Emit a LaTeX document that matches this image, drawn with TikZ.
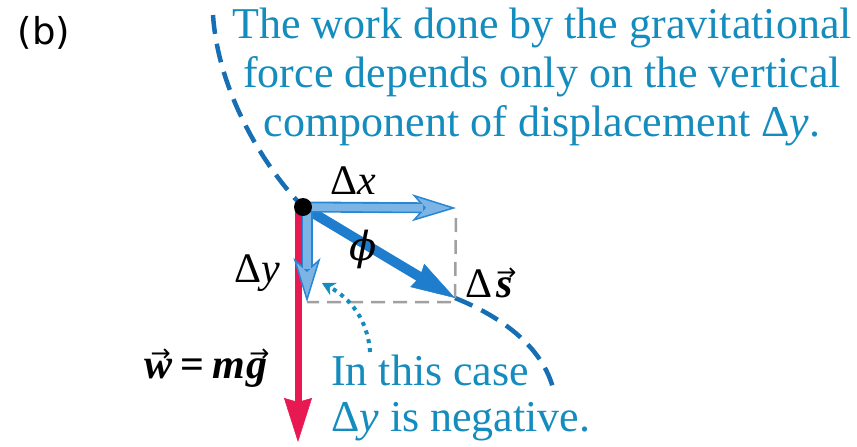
\documentclass[tikz,border=0pt]{standalone}
\usepackage{fontspec}
\newfontfamily\timesfont{Liberation Serif}
\newfontfamily\phifont{DejaVu Serif}
\newfontfamily\arrowfont{DejaVu Sans}
\usetikzlibrary{arrows.meta,calc}
\definecolor{notecol}{RGB}{20,140,190}
\definecolor{pathcol}{RGB}{22,110,180}
\definecolor{scol}{RGB}{30,125,205}
\definecolor{xline}{RGB}{40,135,210}
\definecolor{xfill}{RGB}{125,180,230}
\definecolor{wcol}{RGB}{232,24,82}
\definecolor{boxcol}{RGB}{160,160,160}
\newcommand{\vecb}[1]{\leavevmode\vbox{\offinterlineskip\halign{\hfil##\hfil\cr\hspace{4pt}{\arrowfont\fontsize{24}{24}\selectfont →}\cr\noalign{\kern-3pt}\textbf{\textit{#1}}\cr}}}
\tikzset{
  note/.style={text=notecol, font=\timesfont\fontsize{44}{49}\selectfont, inner sep=0pt},
  lbl/.style={font=\timesfont\fontsize{42}{42}\selectfont, inner sep=0pt},
  pathline/.style={pathcol, line width=4.5pt, dash pattern=on 19pt off 10pt},
  hint/.style={notecol, line width=4pt, dash pattern=on 4pt off 5pt, -{Stealth[length=13pt,width=14pt,line width=0.5pt]}},
  comp/.style={xline, line width=11pt, -{Stealth[length=44pt,width=27pt,inset=12pt,fill=xfill,line width=1.5pt]}},
  compin/.style={xfill, line width=7.5pt},
}
\begin{document}
\begin{tikzpicture}[x=1pt,y=-1pt]
    \useasboundingbox (0,0) rectangle (857,447);
    \coordinate (P) at (303,207);
    \coordinate (X) at (456,208);
    \coordinate (Y) at (307,302);
    \coordinate (S) at (455,298);
    \coordinate (W) at (298,442);
    \coordinate (corner) at (455,302);
    \coordinate (pathtop) at (213,15);
    \coordinate (pathend) at (553,388);
    \coordinate (hintstart) at (370,352);
    \coordinate (hintend) at (322,283);
    \node[font=\arrowfont\fontsize{37}{37}\selectfont, inner sep=0pt] (part) at (44,33) {(b)};
    \draw[pathline] (pathtop) .. controls (218,90) and (262,165) .. (P);
    \draw[pathline] (S) .. controls (490,312) and (540,340) .. (pathend);
    \draw[boxcol, line width=2.5pt, dash pattern=on 14pt off 8pt] ([yshift=-10pt]X) -- (corner) -- (Y |- corner);
    \draw[wcol, line width=7pt, -{Stealth[length=44pt,width=28pt,inset=4pt,line width=0.5pt]}] ([xshift=-5pt]P) -- (W);
    \draw[scol, line width=10pt, -{Stealth[length=44pt,width=27pt,inset=3pt,line width=0.5pt]}] (P) -- (S);
    \draw[comp] ([xshift=4pt]P) -- (Y);
    \draw[compin] ([xshift=4pt]P) -- ([yshift=33pt]Y);
    \draw[comp] (P) -- (X);
    \draw[compin] (P) -- ([xshift=-33pt]X);
    \node[circle, fill=black, minimum size=18pt, inner sep=0pt] (mass) at (P) {};
    \draw[hint] (hintstart) .. controls (368,320) and (350,298) .. (hintend);
    \node[lbl] (dx) at (353,181) {Δ\textit{x}};
    \node[lbl] (dy) at (257,273) {Δ\textit{y}};
    \node[lbl] (ds) at (491,283) {Δ\vecb{s}};
    \node[font=\phifont\itshape\fontsize{40}{40}\selectfont, inner sep=0pt] (phi) at (363,249) {ϕ};
    \node[lbl] (weight) at (207,368) {\vecb{w}\hspace{8pt}\textbf{=}\hspace{8pt}\textbf{\textit{m}}\vecb{g}};
    \node[note, align=center] (top) at (542,77) {The work done by the gravitational\\force depends only on the vertical\\component of displacement Δ\textit{y}.};
    \node[note, align=left, anchor=west, font=\timesfont\fontsize{44}{46}\selectfont] (case) at (331,398) {In this case\\Δ\textit{y} is negative.};
\end{tikzpicture}
\end{document}
